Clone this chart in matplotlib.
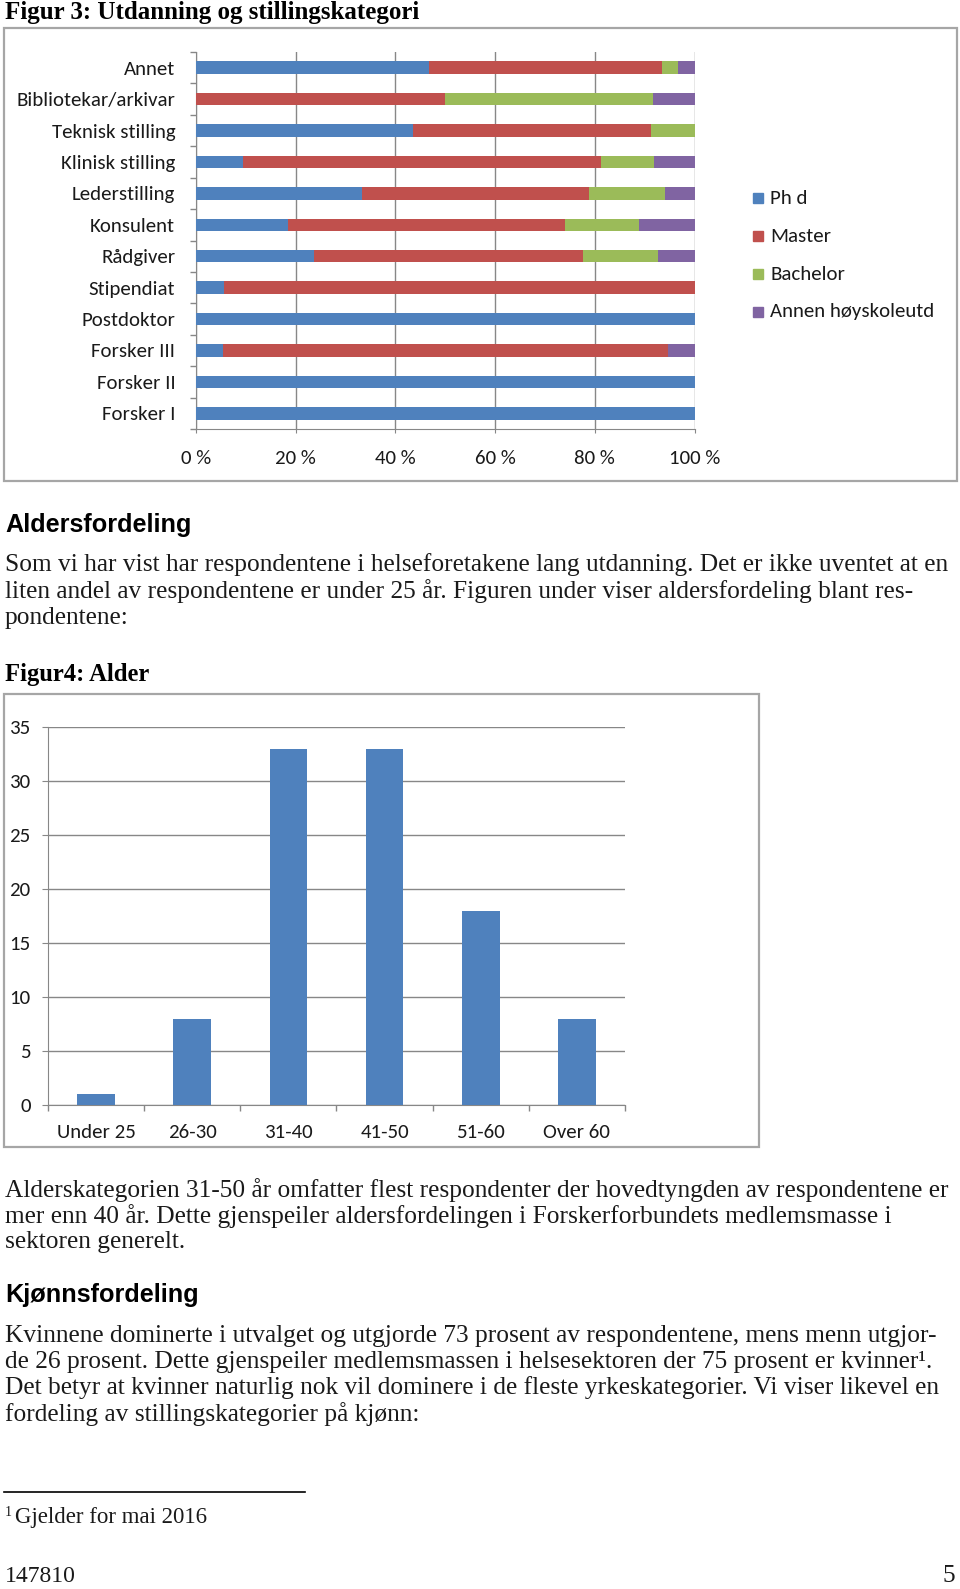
import matplotlib
matplotlib.use("Agg")
import matplotlib.pyplot as plt
from matplotlib.patches import Rectangle
from matplotlib.lines import Line2D
from matplotlib import font_manager

# --- data: figur 3 (share per education level, %) ---
categories = ["Annet", "Bibliotekar/arkivar", "Teknisk stilling", "Klinisk stilling",
              "Lederstilling", "Konsulent", "Rådgiver", "Stipendiat", "Postdoktor",
              "Forsker III", "Forsker II", "Forsker I"]
phd = [46.7, 0, 43.5, 9.5, 33.3, 18.5, 23.7, 5.7, 100, 5.4, 100, 100]
master = [46.7, 50.0, 47.8, 71.7, 45.5, 55.6, 53.9, 94.3, 0, 89.2, 0, 0]
bachelor = [3.3, 41.7, 8.7, 10.7, 15.2, 14.8, 15.0, 0, 0, 0, 0, 0]
annen = [3.3, 8.3, 0, 8.1, 6.0, 11.1, 7.4, 0, 0, 5.4, 0, 0]
edu_labels = ["Ph d", "Master", "Bachelor", "Annen høyskoleutd"]
pct_ticks = [0, 20, 40, 60, 80, 100]

# --- data: figur 4 (age) ---
age_groups = ["Under 25", "26-30", "31-40", "41-50", "51-60", "Over 60"]
age_counts = [1, 8, 33, 33, 18, 8]
age_ticks = [0, 5, 10, 15, 20, 25, 30, 35]

colors = ["#4F81BD", "#C0504D", "#9BBB59", "#8064A2"]
grid_c = "#878787"
box_c = "#a6a6a6"
txt_c = "#1a1a1a"

W, H = 960, 1589
available = {f.name for f in font_manager.fontManager.ttflist}
chart_font = next(f for f in ["Carlito", "Lato", "Liberation Sans", "DejaVu Sans"] if f in available)
serif = next(f for f in ["Liberation Serif", "DejaVu Serif"] if f in available)
sans = next(f for f in ["Liberation Sans", "DejaVu Sans"] if f in available)
chart_fs = 15


def fx(x):
    return x / W


def fy(y):
    return 1 - y / H


def rect(x0, y0, x1, y1):
    return [fx(x0), fy(y1), fx(x1) - fx(x0), fy(y0) - fy(y1)]


fig = plt.figure(figsize=(W / 100, H / 100), dpi=100)
fig.patch.set_facecolor("white")

# chart frames
for (x0, y0, x1, y1) in [(4, 28, 957, 481), (4, 694, 759, 1147)]:
    fig.add_artist(Rectangle((fx(x0), fy(y1)), fx(x1) - fx(x0), fy(y0) - fy(y1),
                             transform=fig.transFigure, fill=False,
                             edgecolor=box_c, lw=1.6))

# ---------- Figur 3 ----------
ax1 = fig.add_axes(rect(196, 52, 694.5, 429))
ypos = list(range(len(categories)))[::-1]
left = [0] * len(categories)
for vals, c in zip([phd, master, bachelor, annen], colors):
    ax1.barh(ypos, vals, left=left, height=0.4, color=c, zorder=3)
    left = [l + v for l, v in zip(left, vals)]
ax1.set_xlim(0, 100)
ax1.set_ylim(-0.5, len(categories) - 0.5)
ax1.set_xticks(pct_ticks)
ax1.set_xticklabels([f"{t} %" for t in pct_ticks])
ax1.set_yticks(ypos)
ax1.set_yticklabels(categories)
ax1.set_yticks([i - 0.5 for i in range(len(categories) + 1)], minor=True)
ax1.tick_params(axis="y", which="major", length=0, pad=15, labelsize=chart_fs,
                labelcolor=txt_c)
ax1.tick_params(axis="y", which="minor", length=4, color=grid_c, width=1)
ax1.tick_params(axis="x", length=3, color=grid_c, pad=12, labelsize=chart_fs,
                labelcolor=txt_c)
ax1.grid(axis="x", color=grid_c, lw=1, zorder=0)
for s in ["top", "right"]:
    ax1.spines[s].set_visible(False)
for s in ["left", "bottom"]:
    ax1.spines[s].set_color(grid_c)
for lab in ax1.get_xticklabels() + ax1.get_yticklabels():
    lab.set_fontfamily(chart_font)

# legend
for i, (lab, c) in enumerate(zip(edu_labels, colors)):
    yy = 198 + i * 38
    fig.add_artist(Rectangle((fx(753), fy(yy + 5)), fx(10), 10 / H,
                             transform=fig.transFigure, color=c))
    fig.text(fx(770), fy(yy), lab, fontsize=chart_fs, family=chart_font,
             va="center", ha="left", color=txt_c)

# ---------- Figur 4 ----------
ax2 = fig.add_axes(rect(48, 727, 625, 1105))
xpos = list(range(len(age_groups)))
ax2.bar(xpos, age_counts, width=0.39, color=colors[0], zorder=3)
ax2.set_xlim(-0.5, len(age_groups) - 0.5)
ax2.set_ylim(0, 35)
ax2.set_yticks(age_ticks)
ax2.set_xticks(xpos)
ax2.set_xticklabels(age_groups)
ax2.set_xticks([i - 0.5 for i in range(len(age_groups) + 1)], minor=True)
ax2.tick_params(axis="x", which="major", length=0, pad=13.5, labelsize=chart_fs,
                labelcolor=txt_c)
ax2.tick_params(axis="x", which="minor", length=4.5, color=grid_c, width=1)
ax2.tick_params(axis="y", length=4.5, color=grid_c, pad=8, labelsize=chart_fs,
                labelcolor=txt_c)
ax2.grid(axis="y", color=grid_c, lw=1, zorder=0)
for s in ["top", "right"]:
    ax2.spines[s].set_visible(False)
for s in ["left", "bottom"]:
    ax2.spines[s].set_color(grid_c)
for lab in ax2.get_xticklabels() + ax2.get_yticklabels():
    lab.set_fontfamily(chart_font)

# ---------- page text ----------
body = dict(fontsize=18.3, family=serif, va="center", ha="left", color=txt_c)
fig.text(fx(5), fy(13), "Figur 3: Utdanning og stillingskategori", fontsize=18,
         family=serif, weight="bold", va="center")
fig.text(fx(5), fy(525), "Aldersfordeling", fontsize=18.2, family=sans,
         weight="bold", va="center")
para1 = ["Som vi har vist har respondentene i helseforetakene lang utdanning. Det er ikke uventet at en",
         "liten andel av respondentene er under 25 år. Figuren under viser aldersfordeling blant res-",
         "pondentene:"]
for i, line in enumerate(para1):
    fig.text(fx(5), fy(565 + i * 26.3), line, **body)
fig.text(fx(5), fy(674), "Figur4: Alder", fontsize=17.7, family=serif,
         weight="bold", va="center")
para2 = ["Alderskategorien 31-50 år omfatter flest respondenter der hovedtyngden av respondentene er",
         "mer enn 40 år. Dette gjenspeiler aldersfordelingen i Forskerforbundets medlemsmasse i",
         "sektoren generelt."]
for i, line in enumerate(para2):
    fig.text(fx(5), fy(1190 + i * 26.2), line, **body)
fig.text(fx(5), fy(1295), "Kjønnsfordeling", fontsize=18.2, family=sans,
         weight="bold", va="center")
para3 = ["Kvinnene dominerte i utvalget og utgjorde 73 prosent av respondentene, mens menn utgjor-",
         "de 26 prosent. Dette gjenspeiler medlemsmassen i helsesektoren der 75 prosent er kvinner¹.",
         "Det betyr at kvinner naturlig nok vil dominere i de fleste yrkeskategorier. Vi viser likevel en",
         "fordeling av stillingskategorier på kjønn:"]
for i, line in enumerate(para3):
    fig.text(fx(5), fy(1336 + i * 26.0), line, **body)

fig.add_artist(Line2D([fx(4), fx(305)], [fy(1492), fy(1492)],
                      transform=fig.transFigure, color="black", lw=1.2))
fig.text(fx(5), fy(1512), "1", fontsize=10, family=serif, va="center",
         ha="left", color=txt_c)
fig.text(fx(15), fy(1517), "Gjelder for mai 2016", fontsize=16.5, family=serif,
         va="center", ha="left", color=txt_c)
fig.text(fx(5), fy(1576), "147810", fontsize=17, family=serif, va="center",
         ha="left", color=txt_c)
fig.text(fx(955), fy(1576), "5", fontsize=18.3, family=serif, va="center",
         ha="right", color=txt_c)

fig.savefig("out.png", dpi=100, facecolor="white")
